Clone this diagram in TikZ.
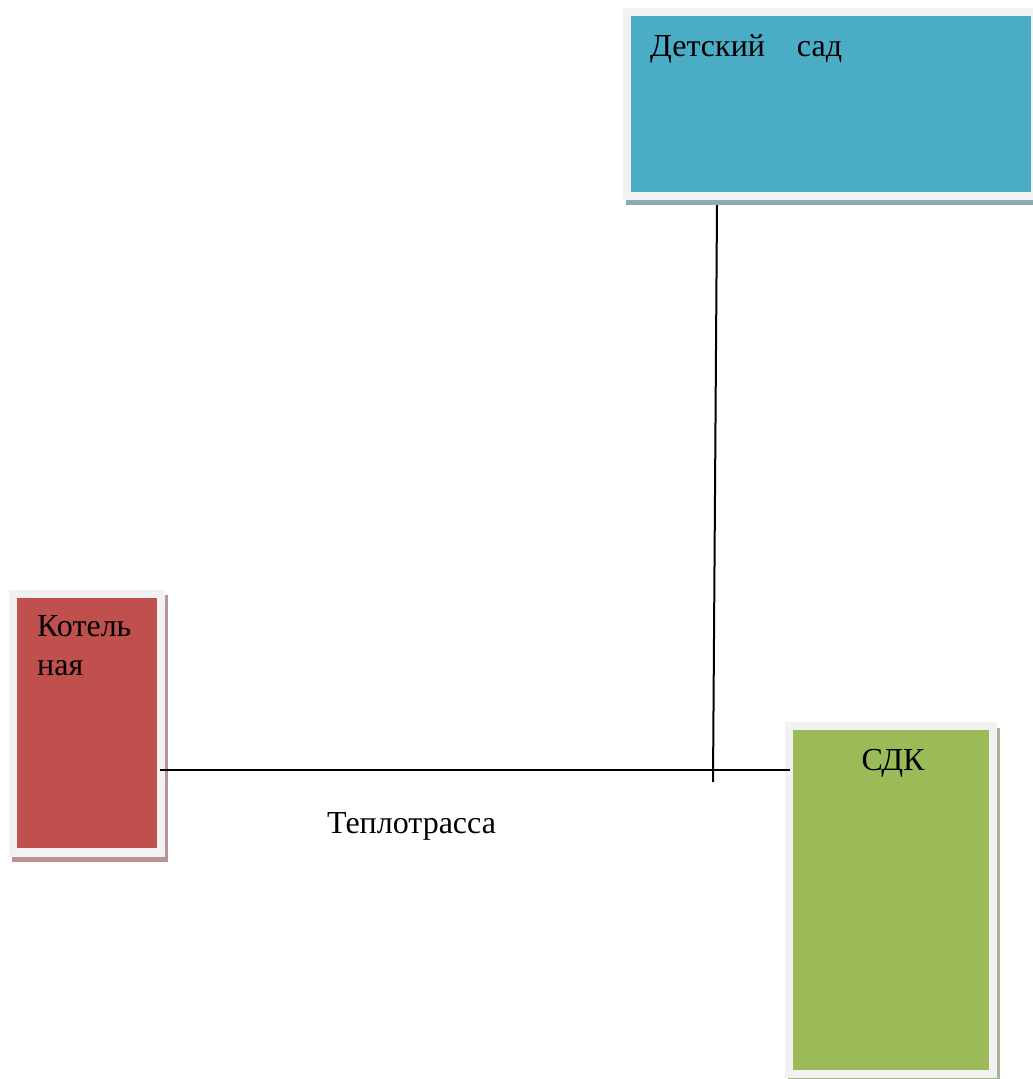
\documentclass[tikz,border=0pt]{standalone}
\usepackage{fontspec}
\setmainfont{Liberation Serif}
\definecolor{frameC}{HTML}{F2F2F2}
\definecolor{blueC}{HTML}{4BACC6}
\definecolor{redC}{HTML}{C0504D}
\definecolor{greenC}{HTML}{9BBB59}
\definecolor{blueSh}{HTML}{8FAAB6}
\definecolor{redSh}{HTML}{B99393}
\definecolor{greenSh}{HTML}{A8B594}
\begin{document}
\begin{tikzpicture}[x=1pt,y=-1pt,
  lbl/.style={inner sep=0pt,anchor=base west,font=\fontsize{32}{40}\selectfont},
  pipe/.style={draw=black,line width=2pt},
  box/.style={inner sep=0pt,anchor=north west}]
\useasboundingbox[fill=white] (0,0) rectangle (1033,1079);

% Детский сад
\fill[blueSh] (626,200) rectangle (1033,205);
\fill[frameC] (623,8) rectangle (1033,200);
\node[box,fill=blueC,minimum width=400pt,minimum height=176pt] (sad) at (631,16) {};
\node[lbl] (sadT) at (650,56) {Детский\hspace*{32pt}сад};

% Котельная
\fill[redSh] (12,595) rectangle (168,862);
\fill[frameC] (9,590) rectangle (165,857);
\node[box,fill=redC,minimum width=140pt,minimum height=250pt] (kot) at (17,598) {};
\node[lbl] (kotT1) at (37,636) {Котель};
\node[lbl] (kotT2) at (37,675) {ная};

% СДК
\fill[greenSh] (788,728) rectangle (1000,1079);
\fill[frameC] (785,722) rectangle (997,1078);
\node[box,fill=greenC,minimum width=196pt,minimum height=340pt] (sdk) at (793,730) {};
\node[lbl,anchor=base] (sdkT) at (893,770) {СДК};

% Теплотрасса
\coordinate (hA) at (160,770);
\coordinate (hB) at (790,770);
\coordinate (vA) at (717,205);
\coordinate (vB) at (713,782);
\draw[pipe] (hA) -- (hB);
\draw[pipe] (vA) -- (vB);
\node[lbl] (trT) at (327,833) {Теплотрасса};
\end{tikzpicture}
\end{document}
